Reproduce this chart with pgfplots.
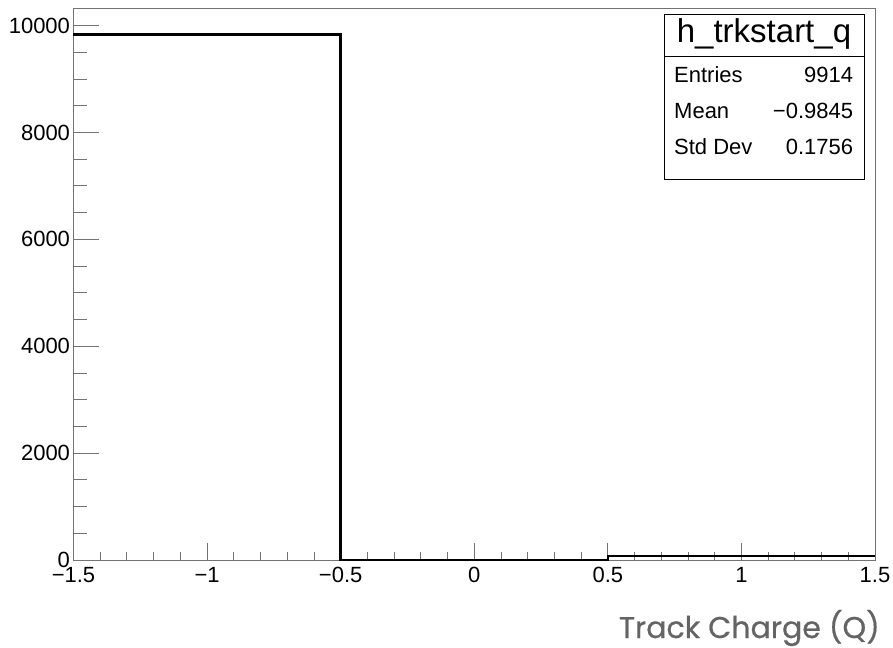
\documentclass[border=0pt]{standalone}
\usepackage{pgfplots}
\pgfplotsset{compat=1.18}
\usepackage{pgfplotstable}
\usepackage{fontspec}
\setmainfont{Liberation Sans}
\newfontfamily\labelfont[FakeBold=0.6]{Poppins}
\definecolor{framegray}{gray}{0.45}
\definecolor{titlegray}{HTML}{646464}

% h_trkstart_q: bin low edges and contents (last row closes the final bin)
\pgfplotstableread{
x y
-1.5 9837
-0.5 0
0.5 77
1.5 77
}\histdata

\begin{document}
\begin{tikzpicture}
\pgfplotsset{
  rootframe/.style={
    scale only axis, width=801.5bp, height=552bp,
    xmin=-1.5, xmax=1.5, ymin=0, ymax=10329,
    scaled x ticks=false, scaled y ticks=false,
    axis line style={framegray, line width=0.9bp},
    tick align=inside, xtick pos=bottom, ytick pos=left,
    every tick/.style={framegray, line width=0.9bp},
    ticklabel style={font=\fontsize{22bp}{26bp}\selectfont},
    xticklabel style={yshift=-4bp},
  }
}
% x ticks
\begin{axis}[rootframe, name=ax,
  xtick={-1.5,-1,-0.5,0,0.5,1,1.5},
  xticklabels={−1.5,−1,−0.5,0,0.5,1,1.5},
  minor x tick num=4,
  major tick length=17bp, minor tick length=8.5bp,
  ytick=\empty]
\end{axis}
% y ticks and the histogram
\begin{axis}[rootframe, at={(ax.south west)}, anchor=south west,
  xtick=\empty,
  ytick={0,2000,4000,6000,8000,10000},
  yticklabels={0,2000,4000,6000,8000,10000},
  minor y tick num=3,
  major tick length=25bp, minor tick length=13bp,
  clip=false]
\addplot[const plot, black, line width=2.5bp] table {\histdata};
\end{axis}

% statistics box
\begin{scope}[every node/.style={inner sep=0pt, font=\fontsize{22bp}{26bp}\selectfont}]
\draw[black, line width=0.9bp, fill=white]
  ([shift={(-211bp,-171bp)}]ax.north east) rectangle ([shift={(-11bp,-6bp)}]ax.north east);
\draw[black, line width=0.9bp]
  ([shift={(-211bp,-48bp)}]ax.north east) -- ([shift={(-11bp,-48bp)}]ax.north east);
\node[anchor=base, font=\fontsize{33bp}{38bp}\selectfont]
  at ([shift={(-111bp,-35bp)}]ax.north east) {h\_trkstart\_q};
\node[anchor=base west] at ([shift={(-201bp,-75bp)}]ax.north east) {Entries};
\node[anchor=base east] at ([shift={(-21.7bp,-75bp)}]ax.north east) {9914};
\node[anchor=base west] at ([shift={(-201bp,-111bp)}]ax.north east) {Mean};
\node[anchor=base east] at ([shift={(-21.7bp,-111bp)}]ax.north east) {−0.9845};
\node[anchor=base west] at ([shift={(-201bp,-147bp)}]ax.north east) {Std Dev};
\node[anchor=base east] at ([shift={(-21.7bp,-147bp)}]ax.north east) {0.1756};
\end{scope}

\node[anchor=base east, inner sep=0pt, text=titlegray,
  font=\labelfont\fontsize{30bp}{36bp}\selectfont]
  at ([shift={(5bp,-78bp)}]ax.south east) {Track Charge (Q)};

\pgfresetboundingbox
\path[use as bounding box]
  ([shift={(-73.5bp,-88bp)}]ax.south west) rectangle ([shift={(18bp,8bp)}]ax.north east);
\end{tikzpicture}
\end{document}
